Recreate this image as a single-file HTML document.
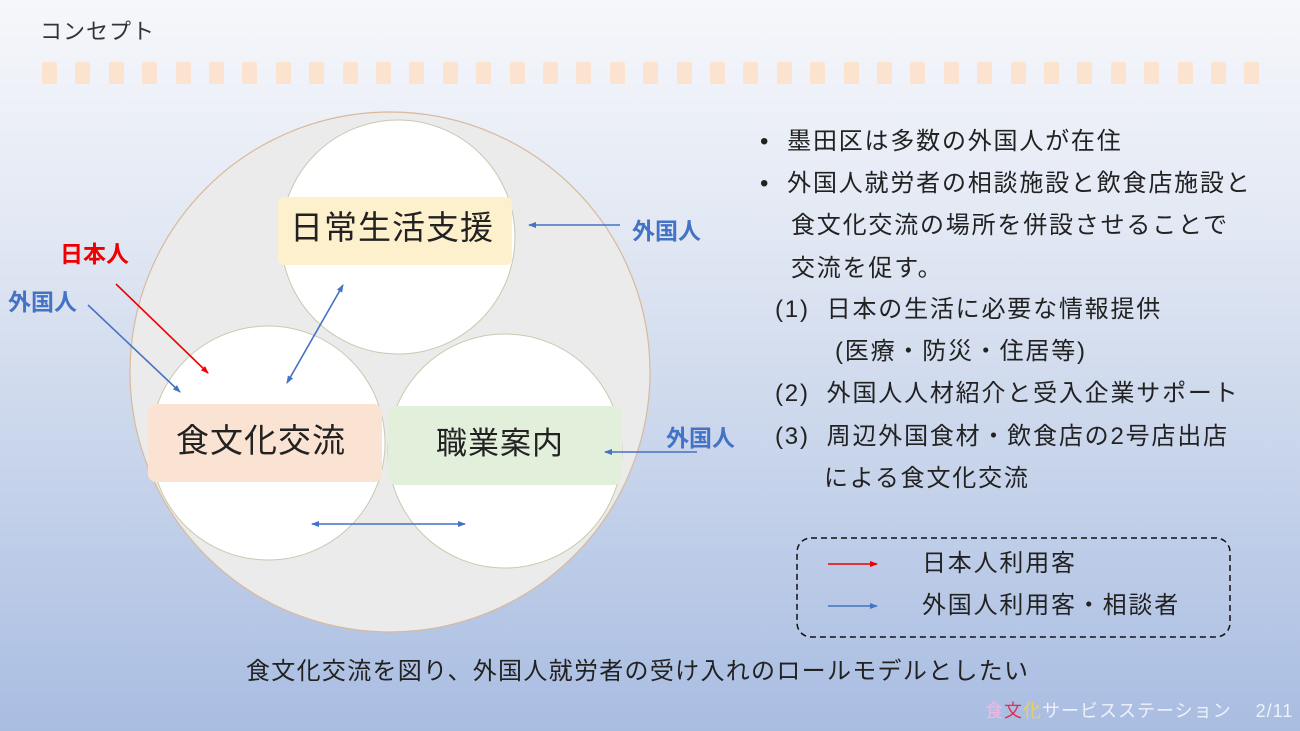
<!DOCTYPE html>
<html><head><meta charset="utf-8"><style>
body{margin:0}
#s{position:relative;width:1300px;height:731px;overflow:hidden;background:linear-gradient(#f6f7fb 0%,#e3e9f4 30%,#c6d3ea 65%,#a9bde2 100%);font-family:"Liberation Sans","Noto Sans CJK JP",sans-serif;color:#222}
.t{position:absolute;white-space:nowrap;font-size:24px;letter-spacing:1.8px;line-height:30px}
.d{position:absolute;top:62px;width:15px;height:22px;background:#fbe3cf;border-radius:2px}
.b{font-weight:bold;font-size:23px;position:absolute;white-space:nowrap}
</style></head><body><div id="s">
<div class="t" style="left:40px;top:17px;font-size:22px;letter-spacing:1px;color:#333">コンセプト</div>
<div id="dots"></div>
<svg width="1300" height="731" style="position:absolute;left:0;top:0">
<defs>
<marker id="ab" markerWidth="8" markerHeight="8" refX="7" refY="4" orient="auto-start-reverse" markerUnits="userSpaceOnUse"><path d="M0,1 L8,4 L0,7z" fill="#4472c4"/></marker>
<marker id="ar" markerWidth="8" markerHeight="8" refX="7" refY="4" orient="auto" markerUnits="userSpaceOnUse"><path d="M0,1 L8,4 L0,7z" fill="#e00"/></marker>
</defs>
<circle cx="390" cy="372" r="260" fill="#ebebeb" stroke="#d9b99c" stroke-width="1.2"/>
<circle cx="398" cy="237" r="117" fill="#fff" stroke="#c9c9b0"/>
<circle cx="268" cy="443" r="117" fill="#fff" stroke="#c9c9b0"/>
<circle cx="505" cy="451" r="117" fill="#fff" stroke="#c9c9b0"/>
<rect x="278" y="197" width="234" height="68" rx="6" fill="#fdf0cc"/>
<rect x="148" y="404" width="234" height="78" rx="8" fill="#fbe3d3"/>
<rect x="388" y="406" width="234" height="79" rx="8" fill="#e2efda"/>
<line x1="116" y1="284" x2="208" y2="373" stroke="#e00" stroke-width="1.6" marker-end="url(#ar)"/>
<line x1="88" y1="305" x2="180" y2="392" stroke="#4472c4" stroke-width="1.6" marker-end="url(#ab)"/>
<line x1="343" y1="285" x2="287" y2="383" stroke="#4472c4" stroke-width="1.6" marker-start="url(#ab)" marker-end="url(#ab)"/>
<line x1="312" y1="524" x2="465" y2="524" stroke="#4472c4" stroke-width="1.6" marker-start="url(#ab)" marker-end="url(#ab)"/>
<line x1="620" y1="225" x2="529" y2="225" stroke="#4472c4" stroke-width="1.6" marker-end="url(#ab)"/>
<line x1="697" y1="452" x2="605" y2="452" stroke="#4472c4" stroke-width="1.6" marker-end="url(#ab)"/>
<rect x="797" y="538" width="433" height="99" rx="14" fill="none" stroke="#111" stroke-width="1.5" stroke-dasharray="6,4"/>
<line x1="828" y1="564" x2="877" y2="564" stroke="#e00" stroke-width="1.6" marker-end="url(#ar)"/>
<line x1="828" y1="606" x2="877" y2="606" stroke="#4472c4" stroke-width="1.6" marker-end="url(#ab)"/>
</svg>
<div class="t" style="left:290px;top:213px;font-size:33px;letter-spacing:1px">日常生活支援</div>
<div class="t" style="left:176px;top:426px;font-size:33px;letter-spacing:1px">食文化交流</div>
<div class="t" style="left:436px;top:429px;font-size:31px;letter-spacing:1px">職業案内</div>
<div class="b" style="left:60px;top:235px;color:#e00">日本人</div>
<div class="b" style="left:8px;top:283px;color:#4472c4">外国人</div>
<div class="b" style="left:632px;top:212px;color:#4472c4">外国人</div>
<div class="b" style="left:666px;top:419px;color:#4472c4">外国人</div>
<div class="t" style="left:760px;top:127px">•&nbsp; 墨田区は多数の外国人が在住</div>
<div class="t" style="left:760px;top:169px">•&nbsp; 外国人就労者の相談施設と飲食店施設と</div>
<div class="t" style="left:791px;top:211px">食文化交流の場所を併設させることで</div>
<div class="t" style="left:791px;top:254px">交流を促す。</div>
<div class="t" style="left:775px;top:295px">(1)&nbsp;&nbsp;日本の生活に必要な情報提供</div>
<div class="t" style="left:835px;top:337px">(医療・防災・住居等)</div>
<div class="t" style="left:775px;top:379px">(2)&nbsp;&nbsp;外国人人材紹介と受入企業サポート</div>
<div class="t" style="left:775px;top:422px">(3)&nbsp;&nbsp;周辺外国食材・飲食店の2号店出店</div>
<div class="t" style="left:824px;top:464px">による食文化交流</div>
<div class="t" style="left:922px;top:549px">日本人利用客</div>
<div class="t" style="left:922px;top:591px">外国人利用客・相談者</div>
<div class="t" style="left:246px;top:657px;letter-spacing:1.3px">食文化交流を図り、外国人就労者の受け入れのロールモデルとしたい</div>
<div class="t" style="left:985px;top:696px;font-size:18px;letter-spacing:1px;color:#eef2fa"><span style="color:#f4b6e0">食</span><span style="color:#e03050">文</span><span style="color:#e8d060">化</span>サービスステーション&nbsp;&nbsp;&nbsp; 2/11</div>
<script>
var h='';for(var i=0;i<37;i++){h+='<div class="d" style="left:'+(42+i*33.4).toFixed(1)+'px"></div>';}
document.getElementById('dots').innerHTML=h;
</script>
</div></body></html>
